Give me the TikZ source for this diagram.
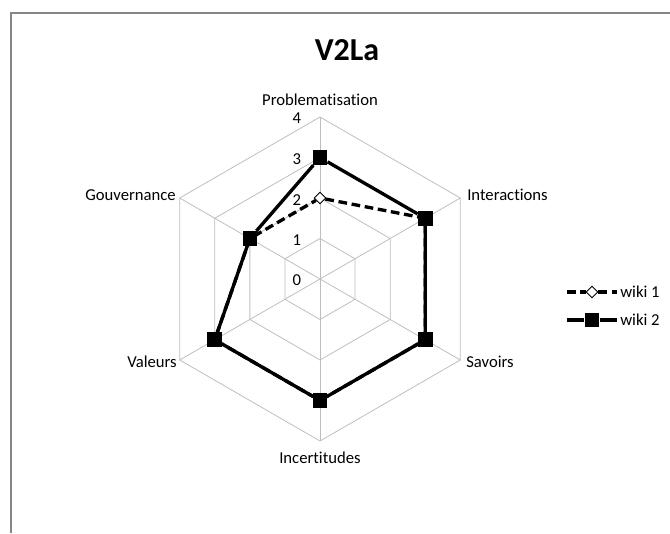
\documentclass[tikz,border=0pt]{standalone}
\usepackage{fontspec}
\setmainfont{Carlito}[Ligatures=NoCommon]
\usetikzlibrary{shapes.geometric}

\definecolor{framegray}{RGB}{134,134,134}
\definecolor{gridgray}{RGB}{190,190,190}

\begin{document}
\begin{tikzpicture}[x=0.75pt, y=-0.75pt,
    grid line/.style={draw=gridgray, line width=0.6pt},
    label text/.style={font=\fontsize{12.5}{14}\selectfont, inner sep=0pt},
    wiki1 line/.style={line width=2.5pt, dash pattern=on 6.5pt off 3.5pt},
    wiki2 line/.style={line width=2.5pt},
    wiki1 mark/.style={diamond, draw=black, fill=white, line width=0.7pt, minimum width=9pt, minimum height=9pt, inner sep=0pt},
    wiki2 mark/.style={rectangle, fill=black, minimum size=11pt, inner sep=0pt}]

    \useasboundingbox (0,0) rectangle (670,533);

    % chart area
    \draw[draw=framegray, line width=1pt] (670,13) -- (11,13) -- (11,533);
    \node[font=\fontsize{24}{28}\bfseries\selectfont] (title) at (347,50) {V2La};

    \begin{scope}[shift={(320,279)}, x=30.375pt, y=30.375pt]
        % Grid
        \draw[grid line] (90:1) -- (30:1) -- (-30:1) -- (-90:1) -- (210:1) -- (150:1) -- cycle;
        \draw[grid line] (90:2) -- (30:2) -- (-30:2) -- (-90:2) -- (210:2) -- (150:2) -- cycle;
        \draw[grid line] (90:3) -- (30:3) -- (-30:3) -- (-90:3) -- (210:3) -- (150:3) -- cycle;
        \draw[grid line] (90:4) -- (30:4) -- (-30:4) -- (-90:4) -- (210:4) -- (150:4) -- cycle;
        \draw[grid line] (0,0) -- (90:4);
        \draw[grid line] (0,0) -- (30:4);
        \draw[grid line] (0,0) -- (-30:4);
        \draw[grid line] (0,0) -- (-90:4);
        \draw[grid line] (0,0) -- (210:4);
        \draw[grid line] (0,0) -- (150:4);

        \node[label text] (v0) at (-0.57,-0.04) {0};
        \node[label text] (v1) at (-0.57,0.96) {1};
        \node[label text] (v2) at (-0.57,1.96) {2};
        \node[label text] (v3) at (-0.57,2.96) {3};
        \node[label text] (v4) at (-0.57,3.96) {4};

        % wiki 1
        \node[wiki1 mark] (P1) at (90:2) {};
        \node[wiki1 mark] (I1) at (30:3) {};
        \node[wiki1 mark] (S1) at (-30:3) {};
        \node[wiki1 mark] (N1) at (-90:3) {};
        \node[wiki1 mark] (V1) at (210:3) {};
        \node[wiki1 mark] (G1) at (150:2) {};
        \draw[wiki1 line] (P1) -- (I1) -- (S1) -- (N1) -- (V1) -- (G1) -- (P1);

        % wiki 2
        \node[wiki2 mark] (P2) at (90:3) {};
        \node[wiki2 mark] (I2) at (30:3) {};
        \node[wiki2 mark] (S2) at (-30:3) {};
        \node[wiki2 mark] (N2) at (-90:3) {};
        \node[wiki2 mark] (V2) at (210:3) {};
        \node[wiki2 mark] (G2) at (150:2) {};
        \draw[wiki2 line] (P2) -- (I2) -- (S2) -- (N2) -- (V2) -- (G2) -- (P2);
    \end{scope}

    % category labels
    \node[label text] (prob) at (320,100) {Problematisation};
    \node[label text, anchor=west] (inter) at (467,195) {Interactions};
    \node[label text, anchor=west] (savoirs) at (466,362) {Savoirs};
    \node[label text] (incert) at (320,458) {Incertitudes};
    \node[label text, anchor=east] (valeurs) at (177,362) {Valeurs};
    \node[label text, anchor=east] (gouv) at (176,195) {Gouvernance};

    % Legend
    \coordinate (L1a) at (567,292);
    \coordinate (L1b) at (617,292);
    \node[wiki1 mark] (M1) at (592,292) {};
    \draw[wiki1 line] (L1a) -- (M1) -- (L1b);
    \node[label text, anchor=west] (leg1) at (620,292) {wiki 1};

    \coordinate (L2a) at (567,320);
    \coordinate (L2b) at (617,320);
    \node[wiki2 mark] (M2) at (592,320) {};
    \draw[wiki2 line] (L2a) -- (M2) -- (L2b);
    \node[label text, anchor=west] (leg2) at (620,320) {wiki 2};

\end{tikzpicture}
\end{document}
